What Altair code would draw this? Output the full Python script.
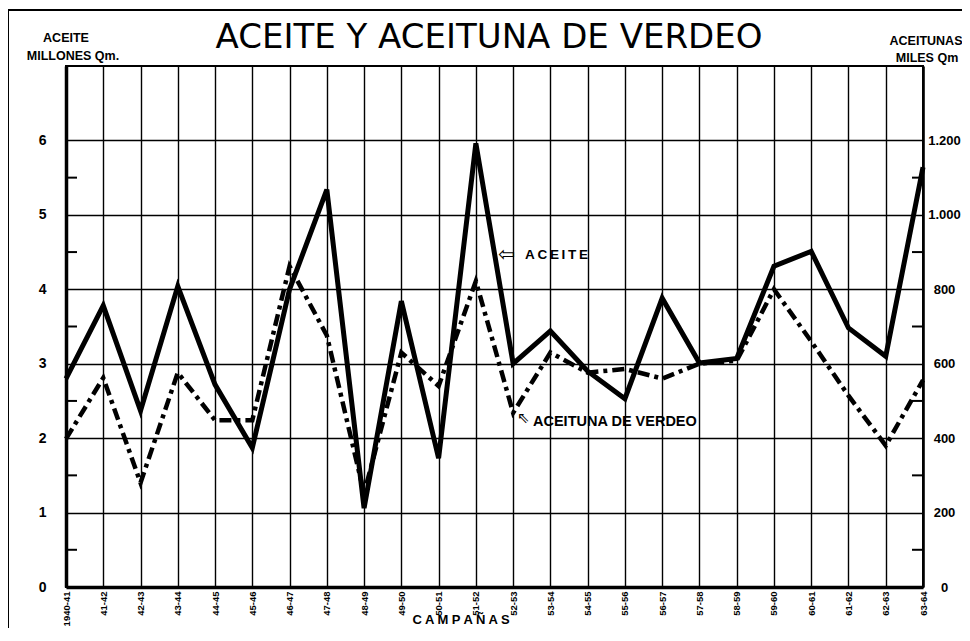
import altair as alt
import pandas as pd

campanas = ["1940-41", "41-42", "42-43", "43-44", "44-45", "45-46", "46-47", "47-48",
            "48-49", "49-50", "50-51", "51-52", "52-53", "53-54", "54-55", "55-56",
            "56-57", "57-58", "58-59", "59-60", "60-61", "61-62", "62-63", "63-64"]
# Aceite, millones de Qm (eje izquierdo)
aceite = [2.80, 3.78, 2.37, 4.04, 2.72, 1.87, 4.00, 5.34, 1.06, 3.84, 1.73, 5.96,
          3.00, 3.44, 2.90, 2.53, 3.88, 3.01, 3.07, 4.31, 4.51, 3.48, 3.10, 5.64]
# Aceituna de verdeo, miles de Qm (eje derecho)
aceituna = [398, 562, 280, 576, 448, 448, 862, 676, 252, 630, 540, 822,
            468, 630, 576, 586, 560, 600, 608, 800, 660, 514, 380, 556]

left_ticks = [0, 1, 2, 3, 4, 5, 6]
right_ticks = [0, 200, 400, 600, 800, 1000, 1200]
minor_left = [0.5, 1.5, 2.5, 3.5, 4.5, 5.5]

FONT = "Liberation Sans, Arial, sans-serif"

df = pd.DataFrame({"campana": campanas, "aceite": aceite, "aceituna": aceituna})
df_minor = pd.DataFrame({"v": minor_left})

W, H = 857, 521

xenc = alt.X("campana:O", sort=campanas, title=None,
             scale=alt.Scale(type="point", padding=0),
             axis=alt.Axis(labelAngle=-90, labelAlign="right", labelBaseline="middle",
                           labelPadding=4, ticks=False, labelFontSize=9.5,
                           labelFontWeight="bold", labelFont=FONT, labelColor="black",
                           domainColor="black", domainWidth=3.5,
                           grid=True, gridColor="black", gridWidth=1.4, gridOpacity=1))

yleft = alt.Scale(domain=[0, 7], nice=False, zero=True)
left_axis = alt.Axis(values=left_ticks, orient="left", ticks=False, labelPadding=20,
                     labelFontSize=14, labelFontWeight="bold", labelFont=FONT,
                     labelColor="black", domainColor="black", domainWidth=3.5,
                     grid=True, gridColor="black", gridWidth=1.4, gridOpacity=1,
                     labelBaseline="middle")

line_aceite = alt.Chart(df).mark_line(color="black", strokeWidth=5, strokeJoin="miter").encode(
    x=xenc,
    y=alt.Y("aceite:Q", scale=yleft, title=None, axis=left_axis)
)

minor_l = alt.Chart(df_minor).mark_rule(color="black", strokeWidth=2).encode(
    y=alt.Y("v:Q", scale=yleft, title=None, axis=left_axis),
    x=alt.value(0), x2=alt.value(11))
minor_r = alt.Chart(df_minor).mark_rule(color="black", strokeWidth=2).encode(
    y=alt.Y("v:Q", scale=yleft, title=None, axis=left_axis),
    x=alt.value(W - 11), x2=alt.value(W))

def txt(s, x, y, size, weight="bold", align="center", baseline="middle", font=FONT):
    return alt.Chart(pd.DataFrame({"t": [s]})).mark_text(
        fontSize=size, fontWeight=weight, align=align, baseline=baseline,
        font=font, color="black").encode(text="t:N", x=alt.value(x), y=alt.value(y))

TS = "\u2009"
title = txt("ACEITE Y ACEITUNA DE VERDEO", 423, -18, 34, weight="normal",
            baseline="alphabetic", font="DejaVu Sans, sans-serif")
h1 = txt("ACEITE", 0, -28, 12.5)
h2 = txt("MILLONES Qm.", 7, -10, 12.5)
h3 = txt("ACEITUNAS", 860, -25, 12.5)
h4 = txt("MILES Qm", 861, -8, 12.5)
arr1 = txt("⇦", 432, 189, 20, weight="normal", align="left", font="DejaVu Sans, sans-serif")
ann1 = txt(TS.join("ACEITE"), 459, 189, 13.5, align="left")
arr2 = txt("⇖", 451, 352, 15, weight="normal", align="left", font="DejaVu Sans, sans-serif")
ann2 = txt("ACEITUNA DE VERDEO", 467, 356, 14.5, align="left")
xtitle = txt("C A M P A Ñ A S", 395, 558, 13, baseline="alphabetic")

frame = alt.Chart(pd.DataFrame({"k": [0]})).mark_rule(color="black", strokeWidth=2).encode(
    x=alt.value(-58), x2=alt.value(904), y=alt.value(-56))
frame2 = alt.Chart(pd.DataFrame({"k": [0]})).mark_rule(color="black", strokeWidth=2).encode(
    x=alt.value(-58), y=alt.value(-56), y2=alt.value(570))

left = alt.layer(line_aceite, minor_l, minor_r, title, h1, h2, h3, h4, arr1, ann1,
                 arr2, ann2, xtitle, frame, frame2)

line_aceituna = alt.Chart(df).mark_line(color="black", strokeWidth=4.5,
                                        strokeDash=[12, 5, 4, 5]).encode(
    x=xenc,
    y=alt.Y("aceituna:Q", scale=alt.Scale(domain=[0, 1400], nice=False), title=None,
            axis=alt.Axis(values=right_ticks, orient="right", ticks=False, labelPadding=21,
                          labelAlign="center", labelBaseline="middle",
                          labelFontSize=13, labelFontWeight="bold", labelFont=FONT,
                          labelColor="black", domainColor="black", domainWidth=2.5,
                          grid=False,
                          labelExpr="replace(format(datum.value, ','), ',', '.')"))
)

chart = alt.layer(left, line_aceituna).resolve_scale(y="independent").properties(
    width=W, height=H,
    autosize=alt.AutoSizeParams(type="none"),
    padding={"left": 58, "top": 58, "right": 39, "bottom": 41},
    background="white",
).configure_view(stroke="black", strokeWidth=2)

chart.save("out.html", embed_options={"renderer": "svg", "actions": False})
